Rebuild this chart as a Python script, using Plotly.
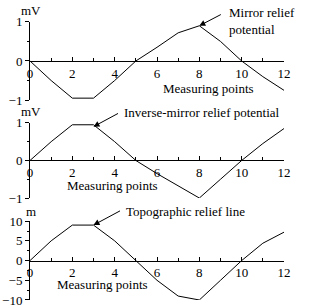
import plotly.graph_objects as go

x = list(range(13))
mirror = [0, -0.5, -0.95, -0.95, -0.5, 0, 0.35, 0.72, 0.9, 0.5, 0, -0.4, -0.75]
inverse = [0, 0.5, 0.95, 0.95, 0.5, 0, -0.35, -0.68, -1.0, -0.5, 0, 0.45, 0.85]
topo = [0, 5, 9, 9, 5, 0, -5, -9, -10, -5, 0, 4.4, 7.2]

FONT = dict(family="Liberation Serif, Times New Roman, serif", size=13, color="black")

fig = go.Figure()
series = [(mirror, "x", "y"), (inverse, "x2", "y2"), (topo, "x3", "y3")]
for ys, xa, ya in series:
    fig.add_trace(go.Scatter(x=x, y=ys, xaxis=xa, yaxis=ya, mode="lines",
                             line=dict(color="black", width=1), showlegend=False))

domains = [[0.675, 0.929], [0.357, 0.601], [0.026, 0.282]]
yranges = [[-1, 1], [-1, 1], [-10, 10]]
yticks = [[-1, 0, 1], [-1, 0, 1], [-10, -5, 0, 5, 10]]
yminor = [0.5, 0.5, 2.5]

layout = dict(width=320, height=308, margin=dict(l=30, r=36, t=0, b=0),
              paper_bgcolor="white", plot_bgcolor="white", font=FONT)
for i in range(3):
    s = "" if i == 0 else str(i + 1)
    d = domains[i]
    layout["xaxis" + s] = dict(range=[0, 12], domain=[0, 1], anchor="free",
                               position=(d[0] + d[1]) / 2, automargin=False,
                               tickvals=[0, 2, 4, 6, 8, 10, 12], ticks="inside", ticklen=4,
                               minor=dict(dtick=1, ticks="inside", ticklen=3, tickcolor="black"),
                               showline=True, linecolor="black", linewidth=1, tickcolor="black",
                               showgrid=False, zeroline=False, tickfont=FONT)
    layout["yaxis" + s] = dict(range=yranges[i], domain=d, anchor="x" + s, automargin=False,
                               tickvals=yticks[i], ticks="outside", ticklen=4,
                               minor=dict(dtick=yminor[i], ticks="outside", ticklen=2, tickcolor="black"),
                               showline=True, linecolor="black", linewidth=1, tickcolor="black",
                               showgrid=False, zeroline=False, tickfont=FONT)
fig.update_layout(**layout)


def px(xp):
    return (xp - 30) / 254.0


def py(yp):
    return 1 - yp / 308.0


def label(xp, yp, text, xanchor="center", **kw):
    d = dict(x=px(xp), y=py(yp), xref="paper", yref="paper", text=text, showarrow=False,
             xanchor=xanchor, yanchor="middle")
    d.update(kw)
    return d


annotations = [
    # units
    label(31, 11, "mV"),
    label(31, 111, "mV"),
    label(31, 211, "m"),
    # axis titles
    label(208, 88, "Measuring points"),
    label(112, 185, "Measuring points"),
    label(102, 284, "Measuring points"),
    # labels
    label(227, 21, "Mirror relief<br>potential", xanchor="left", align="left"),
    label(122, 113, "Inverse-mirror relief potential", xanchor="left"),
    label(124, 211, "Topographic relief line", xanchor="left"),
    # arrows
    dict(x=8, y=0.9, xref="x", yref="y", text="", showarrow=True, ax=23, ay=-12,
         arrowhead=2, arrowsize=1.2, arrowwidth=1, arrowcolor="black"),
    dict(x=3, y=0.9, xref="x2", yref="y2", text="", showarrow=True, ax=26, ay=-14,
         arrowhead=2, arrowsize=1.2, arrowwidth=1, arrowcolor="black"),
    dict(x=3, y=9, xref="x3", yref="y3", text="", showarrow=True, ax=28, ay=-15,
         arrowhead=2, arrowsize=1.2, arrowwidth=1, arrowcolor="black"),
]
for a in annotations:
    a.setdefault("font", FONT)
fig.update_layout(annotations=annotations)

fig.write_html("out.html", config={"displayModeBar": False},
               post_script="document.body.style.margin='0';")
